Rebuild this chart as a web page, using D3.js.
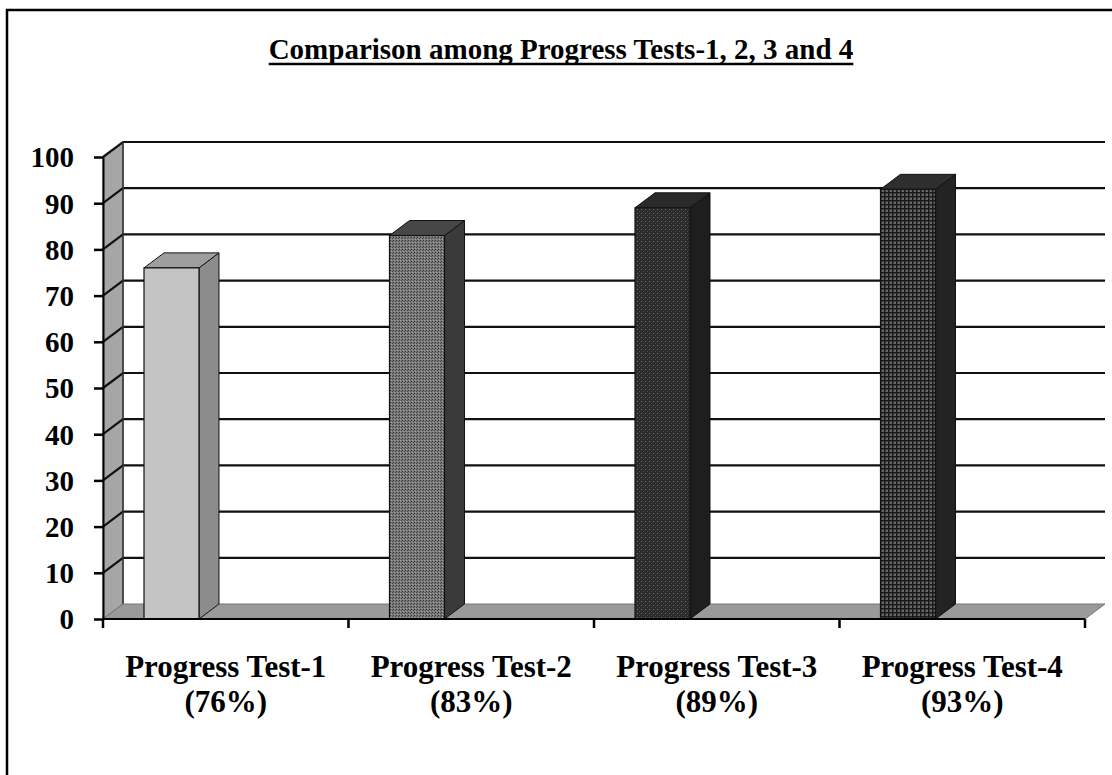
<!DOCTYPE html>
<html>
<head>
<meta charset="utf-8">
<script src="https://cdn.jsdelivr.net/npm/d3@7"></script>
<style>
  html, body { margin: 0; padding: 0; background: #fff; }
  svg { display: block; }
  text { font-family: "Liberation Serif", "Times New Roman", serif; font-weight: bold; fill: #000; }
</style>
</head>
<body>
<svg id="chart" width="1112" height="775"></svg>
<script>
// Chart data
const categories = ["Progress Test-1", "Progress Test-2", "Progress Test-3", "Progress Test-4"];
const percentLabels = ["(76%)", "(83%)", "(89%)", "(93%)"];
const values = [76, 83, 89, 93];
const yTicks = [0, 10, 20, 30, 40, 50, 60, 70, 80, 90, 100];
const titleText = "Comparison among Progress Tests-1, 2, 3 and 4";

const svg = d3.select("#chart");

// 3D depth offset of walls and bars
const DX = 20, DY = 15;

const x = d3.scaleBand().domain(categories).range([103, 1085]).padding(0);
const y = d3.scaleLinear().domain([0, 100]).range([619, 157]);

// Patterns for the bar faces
const defs = svg.append("defs");

const p2 = defs.append("pattern").attr("id", "dots").attr("width", 3).attr("height", 3)
  .attr("patternUnits", "userSpaceOnUse");
p2.append("rect").attr("width", 3).attr("height", 3).attr("fill", "#7a7a7a");
p2.append("rect").attr("x", 0).attr("y", 0).attr("width", 1).attr("height", 1).attr("fill", "#333");
p2.append("rect").attr("x", 2).attr("y", 1).attr("width", 1).attr("height", 1).attr("fill", "#474747");
p2.append("rect").attr("x", 1).attr("y", 2).attr("width", 1).attr("height", 1).attr("fill", "#a0a0a0");

const p3 = defs.append("pattern").attr("id", "darkdots").attr("width", 4).attr("height", 4)
  .attr("patternUnits", "userSpaceOnUse");
p3.append("rect").attr("width", 4).attr("height", 4).attr("fill", "#2b2b2b");
p3.append("rect").attr("x", 1).attr("y", 1).attr("width", 1).attr("height", 1).attr("fill", "#777");
p3.append("rect").attr("x", 3).attr("y", 3).attr("width", 1).attr("height", 1).attr("fill", "#505050");

const p4 = defs.append("pattern").attr("id", "grid").attr("width", 4).attr("height", 4)
  .attr("patternUnits", "userSpaceOnUse");
p4.append("rect").attr("width", 4).attr("height", 4).attr("fill", "#666");
p4.append("rect").attr("x", 0).attr("y", 0).attr("width", 4).attr("height", 1.5).attr("fill", "#1a1a1a");
p4.append("rect").attr("x", 0).attr("y", 0).attr("width", 1.5).attr("height", 4).attr("fill", "#1a1a1a");

const barStyles = [
  { front: "#c4c4c4", side: "#8c8c8c", top: "#9e9e9e" },
  { front: "url(#dots)", side: "#3a3a3a", top: "#474747" },
  { front: "url(#darkdots)", side: "#1e1e1e", top: "#2a2a2a" },
  { front: "url(#grid)", side: "#232323", top: "#2e2e2e" }
];

// Outer frame
svg.append("rect").attr("x", 7).attr("y", 10).attr("width", 1300).attr("height", 900)
  .attr("fill", "none").attr("stroke", "#000").attr("stroke-width", 2.5);

// Title (underlined)
const title = svg.append("text")
  .attr("x", 561).attr("y", 59)
  .attr("text-anchor", "middle")
  .style("font-size", "29px")
  .text(titleText);
const tb = title.node().getBBox();
svg.append("line").attr("x1", tb.x).attr("x2", tb.x + tb.width)
  .attr("y1", 64).attr("y2", 64).attr("stroke", "#000").attr("stroke-width", 2.5);

const x0 = x.range()[0], x1 = x.range()[1];
const yTop = y(100), yBot = y(0);

// Back wall
svg.append("rect").attr("x", x0 + DX).attr("y", yTop - DY)
  .attr("width", x1 - x0).attr("height", yBot - yTop)
  .attr("fill", "#fff");

// Left wall
svg.append("path")
  .attr("d", `M${x0},${yBot} L${x0},${yTop} L${x0 + DX},${yTop - DY} L${x0 + DX},${yBot - DY} Z`)
  .attr("fill", "#a6a6a6").attr("stroke", "#555").attr("stroke-width", 1);

// Gridlines: along the left wall and across the back wall
const grid = svg.append("g");
yTicks.filter(d => d > 0).forEach(d => {
  grid.append("path")
    .attr("d", `M${x0},${y(d)} L${x0 + DX},${y(d) - DY} L${x1 + DX},${y(d) - DY}`)
    .attr("fill", "none").attr("stroke", "#111").attr("stroke-width", 2.2);
});
// back edge of the left wall
svg.append("line").attr("x1", x0 + DX).attr("x2", x0 + DX)
  .attr("y1", yTop - DY).attr("y2", yBot - DY)
  .attr("stroke", "#333").attr("stroke-width", 1.5);

// Floor
svg.append("path")
  .attr("d", `M${x0},${yBot} L${x0 + DX},${yBot - DY} L${x1 + DX},${yBot - DY} L${x1},${yBot} Z`)
  .attr("fill", "#9a9a9a").attr("stroke", "#777").attr("stroke-width", 1);

// Bars (front, side, top)
const barW = x.bandwidth() * 0.224;
const barOff = x.bandwidth() * 0.167;
const bars = svg.append("g").selectAll("g").data(values).join("g");
bars.each(function (v, i) {
  const g = d3.select(this);
  const bx = x(categories[i]) + barOff;
  const top = y(v), bot = y(0);
  const s = barStyles[i];
  g.append("path")
    .attr("d", `M${bx + barW},${bot} L${bx + barW},${top} L${bx + barW + DX},${top - DY} L${bx + barW + DX},${bot - DY} Z`)
    .attr("fill", s.side).attr("stroke", "#111").attr("stroke-width", 1);
  g.append("path")
    .attr("d", `M${bx},${top} L${bx + DX},${top - DY} L${bx + barW + DX},${top - DY} L${bx + barW},${top} Z`)
    .attr("fill", s.top).attr("stroke", "#111").attr("stroke-width", 1);
  g.append("rect")
    .attr("x", bx).attr("y", top).attr("width", barW).attr("height", bot - top)
    .attr("fill", s.front).attr("stroke", "#111").attr("stroke-width", 1.2);
});

// Y axis
const yAxis = svg.append("g").attr("transform", `translate(${x0},0)`)
  .call(d3.axisLeft(y).tickValues(yTicks).tickSize(9).tickPadding(20).tickSizeOuter(0));
yAxis.select(".domain").attr("stroke", "#000").attr("stroke-width", 2);
yAxis.selectAll(".tick line").attr("stroke", "#000").attr("stroke-width", 2.5);
yAxis.selectAll(".tick text")
  .style("font-family", "'Liberation Serif', 'Times New Roman', serif")
  .style("font-weight", "bold").style("font-size", "29px").attr("fill", "#000")
  .attr("dy", "0.34em");

// X axis with ticks at category boundaries
const xAxisG = svg.append("g");
xAxisG.append("line").attr("x1", x0).attr("x2", x1).attr("y1", yBot).attr("y2", yBot)
  .attr("stroke", "#000").attr("stroke-width", 2);
const boundaries = categories.map(c => x(c)).concat([x1]);
xAxisG.selectAll("line.tk").data(boundaries).join("line").attr("class", "tk")
  .attr("x1", d => d).attr("x2", d => d).attr("y1", yBot).attr("y2", yBot + 9)
  .attr("stroke", "#000").attr("stroke-width", 2.5);

// Category labels
const labels = svg.append("g").selectAll("g").data(categories).join("g")
  .attr("transform", d => `translate(${x(d) + x.bandwidth() / 2},0)`);
labels.append("text").attr("y", 677).attr("text-anchor", "middle")
  .style("font-size", "31px").text(d => d);
labels.append("text").attr("y", 712).attr("text-anchor", "middle")
  .style("font-size", "31px").text((d, i) => percentLabels[i]);
</script>
</body>
</html>
